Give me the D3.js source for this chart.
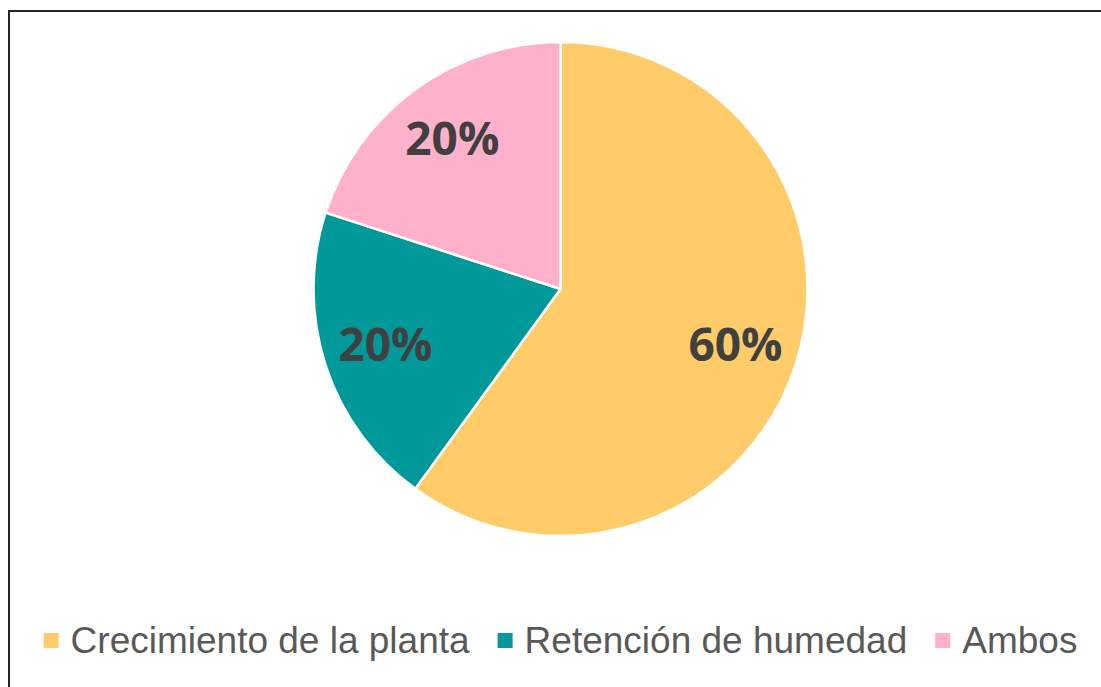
<!DOCTYPE html>
<html>
<head>
<meta charset="utf-8">
<script src="https://cdn.jsdelivr.net/npm/d3@7"></script>
<style>
    body { margin: 0; background: #fff; }
    svg { display: block; }
</style>
</head>
<body>
<svg id="chart"></svg>
<script>
const categories = ["Crecimiento de la planta", "Retención de humedad", "Ambos"];
const values = [60, 20, 20];
const labels = ["60%", "20%", "20%"];
const colors = ["#FFCC69", "#009999", "#FFB1CB"];

const width = 1101, height = 687;
const cx = 560.5, cy = 289, radius = 247;

const svg = d3.select("#chart").attr("width", width).attr("height", height);

// frame of the chart area (runs past the right and bottom edges)
svg.append("rect")
    .attr("x", 9).attr("y", 11)
    .attr("width", width + 20).attr("height", height + 20)
    .attr("fill", "#fff")
    .attr("stroke", "#262626")
    .attr("stroke-width", 2);

const pie = d3.pie().sort(null).value(d => d);
const arcs = pie(values);

const arc = d3.arc().innerRadius(0).outerRadius(radius);
const labelArc = d3.arc().innerRadius(radius * 0.745).outerRadius(radius * 0.745);

const g = svg.append("g").attr("transform", "translate(" + cx + "," + cy + ")");

g.selectAll("path")
    .data(arcs)
    .enter().append("path")
    .attr("d", arc)
    .attr("fill", (d, i) => colors[i])
    .attr("stroke", "#fff")
    .attr("stroke-width", 2.5)
    .attr("stroke-linejoin", "round");

g.selectAll("text")
    .data(arcs)
    .enter().append("text")
    .attr("transform", d => "translate(" + labelArc.centroid(d) + ")")
    .attr("text-anchor", "middle")
    .attr("dy", "0.33em")
    .attr("font-family", "'Open Sans', sans-serif")
    .attr("font-weight", 700)
    .attr("font-size", 46)
    .attr("fill", "#404040")
    .text((d, i) => labels[i]);

// legend, centred under the pie
const legend = svg.append("g");
const box = 15, gapText = 12, gapItem = 28, baseline = 653;
const items = legend.selectAll("g")
    .data(categories)
    .enter().append("g");

items.append("rect")
    .attr("width", box).attr("height", box)
    .attr("y", baseline - 20)
    .attr("fill", (d, i) => colors[i]);

items.append("text")
    .attr("x", box + gapText)
    .attr("y", baseline)
    .attr("font-family", "'Liberation Sans', Arial, sans-serif")
    .attr("font-size", 37)
    .attr("fill", "#595959")
    .text(d => d);

let x = 0;
const offsets = [];
items.each(function() {
    const w = box + gapText + d3.select(this).select("text").node().getComputedTextLength();
    offsets.push(x);
    x += w + gapItem;
});
const total = x - gapItem;
const start = cx - total / 2;
items.attr("transform", (d, i) => "translate(" + (start + offsets[i]) + ",0)");
</script>
</body>
</html>
